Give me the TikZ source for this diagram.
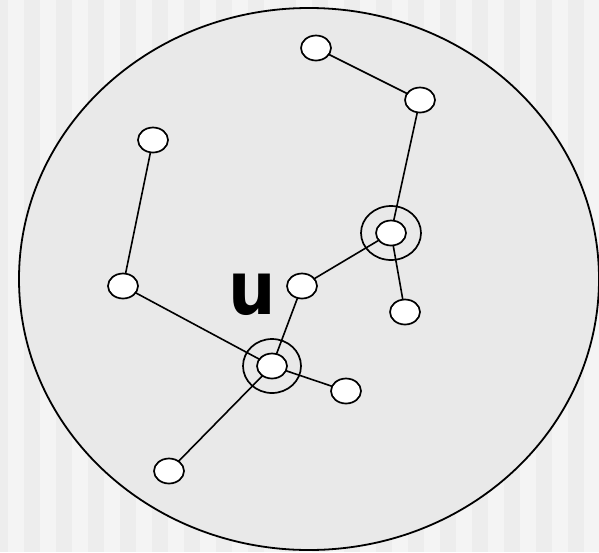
\documentclass[tikz,border=0pt]{standalone}
\usepackage{fontspec}
\setmainfont{DejaVu Sans}
\newfontfamily\ufont{DejaVu Sans Condensed}
\usetikzlibrary{shapes.geometric}
\definecolor{stripeA}{HTML}{EDEDED}
\definecolor{stripeB}{HTML}{F4F4F4}
\definecolor{blobfill}{HTML}{E9E9E9}
\pgfdeclarelayer{bglayer}
\pgfdeclarelayer{edgelayer}
\pgfsetlayers{bglayer,edgelayer,main}
\begin{document}
\begin{tikzpicture}[x=1pt,y=-1pt,
  vert/.style={draw=black, fill=white, ellipse, line width=1.7pt, minimum width=30pt, minimum height=25pt, inner sep=0pt},
  edge/.style={line width=1.6pt},
  ring/.style={draw=black, line width=1.7pt}]
\useasboundingbox (0,0) rectangle (599,552);
\node[vert] (a) at (316,48) {};
\node[vert] (b) at (420,100) {};
\node[vert] (c) at (153,140) {};
\node[vert] (d) at (391,233) {};
\node[vert] (e) at (123,286) {};
\node[vert] (f) at (302,286) {};
\node[vert] (g) at (405,312) {};
\node[vert] (h) at (272,366) {};
\node[vert] (i) at (346,391) {};
\node[vert] (j) at (169,471) {};
\node (ulabel) at (252,295) {\ufont\fontsize{74}{74}\selectfont\bfseries u};
\begin{pgfonlayer}{bglayer}
\fill[stripeA] (0,0) rectangle (599,552);
\foreach \k in {0,...,18} {\fill[stripeB] (8+32*\k,0) rectangle (24+32*\k,552);}
\draw[fill=blobfill, line width=1.8pt] (309,279) ellipse [x radius=290, y radius=271];
\end{pgfonlayer}
\begin{pgfonlayer}{edgelayer}
\draw[edge] (a.center) -- (b.center) (b.center) -- (d.center) (c.center) -- (e.center) (e.center) -- (h.center) (f.center) -- (d.center) (f.center) -- (h.center) (d.center) -- (g.center) (h.center) -- (i.center) (h.center) -- (j.center);
\draw[ring] (d.center) ellipse [x radius=30, y radius=27];
\draw[ring] (h.center) ellipse [x radius=29, y radius=27];
\end{pgfonlayer}
\end{tikzpicture}
\end{document}
